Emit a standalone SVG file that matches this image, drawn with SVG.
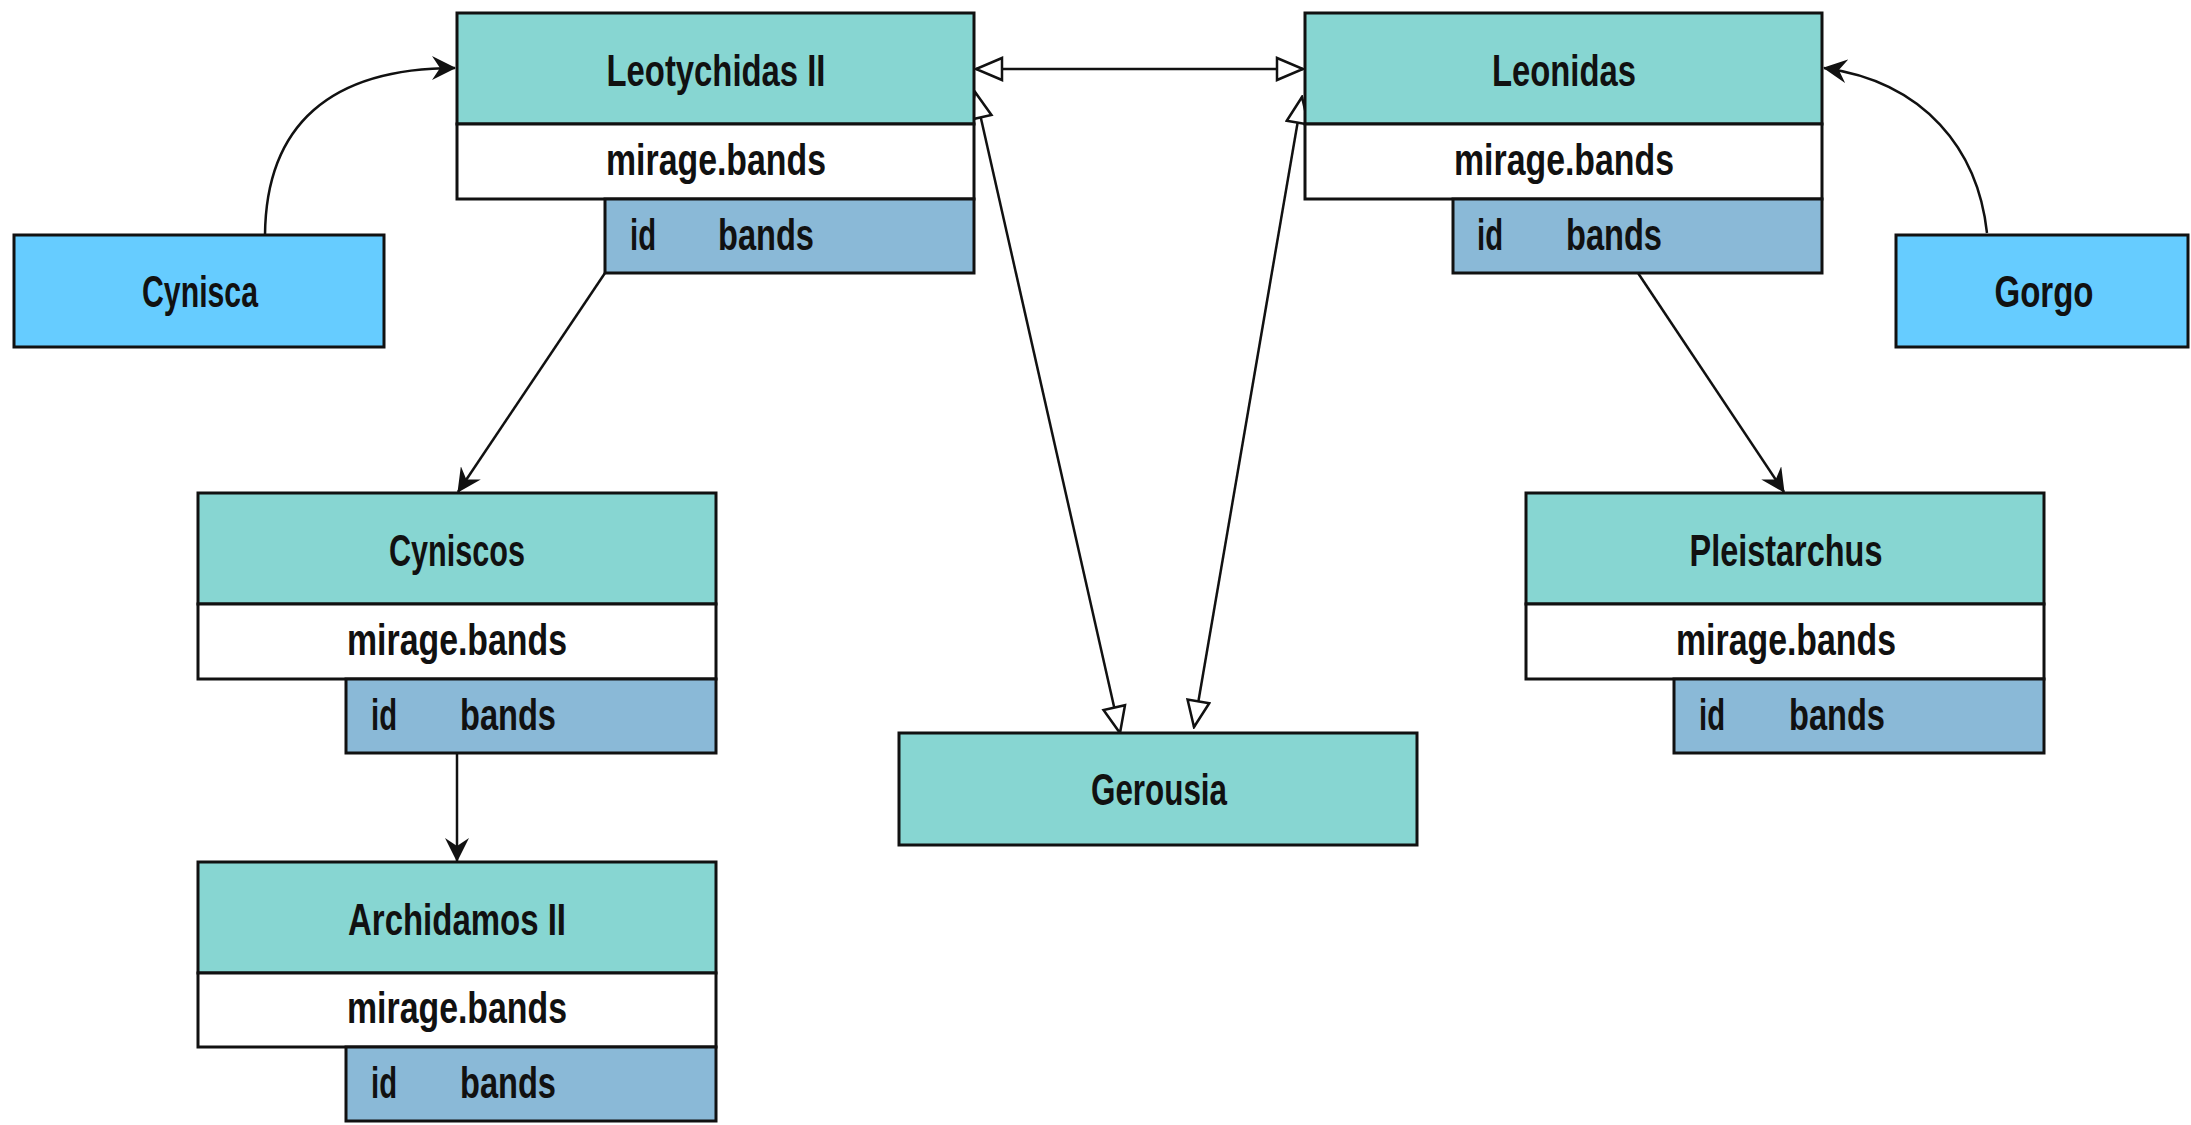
<svg xmlns="http://www.w3.org/2000/svg" width="2191" height="1125" viewBox="0 0 2191 1125">
<style>
.hd{fill:#87d6d2;stroke:#111;stroke-width:3}
.mr{fill:#ffffff;stroke:#111;stroke-width:3}
.ir{fill:#8ab9d7;stroke:#111;stroke-width:3}
.bx{fill:#66ccff;stroke:#111;stroke-width:3}
text{font-family:"Liberation Sans",Arial,sans-serif;font-weight:bold;font-size:45px;fill:#111}
.c{text-anchor:middle}
.ln{fill:none;stroke:#111;stroke-width:2.5}
</style>
<defs>
<marker id="fa" markerUnits="userSpaceOnUse" viewBox="0 0 24 24" refX="23" refY="12" markerWidth="24" markerHeight="24" orient="auto">
<path d="M0,0 L24,12 L0,24 L8,12 Z" fill="#111"/>
</marker>
<marker id="ha" markerUnits="userSpaceOnUse" viewBox="0 0 30 26" refX="28" refY="13" markerWidth="30" markerHeight="26" orient="auto-start-reverse">
<path d="M2,2 L28,13 L2,24 Z" fill="#fff" stroke="#111" stroke-width="2.5"/>
</marker>
</defs>
<g id="connectors">
<path class="ln" d="M265,235 C266,125 330,68 455,68" marker-end="url(#fa)"/>
<path class="ln" d="M1987,233 C1978,150 1925,82 1824,68" marker-end="url(#fa)"/>
<path class="ln" d="M976,69 L1303,69" marker-start="url(#ha)" marker-end="url(#ha)"/>
<path class="ln" d="M975,92 L1120,733" marker-start="url(#ha)" marker-end="url(#ha)"/>
<path class="ln" d="M1302,97 L1194,727" marker-start="url(#ha)" marker-end="url(#ha)"/>
<path class="ln" d="M605,273 L458,492" marker-end="url(#fa)"/>
<path class="ln" d="M1638,273 L1784,492" marker-end="url(#fa)"/>
<path class="ln" d="M457,754 L457,861" marker-end="url(#fa)"/>
</g>
<g id="Cynisca">
<rect class="bx" x="14" y="235" width="370" height="112"/>
<text class="c" x="200" y="307" textLength="116" lengthAdjust="spacingAndGlyphs">Cynisca</text>
</g>
<g id="Gorgo">
<rect class="bx" x="1896" y="235" width="292" height="112"/>
<text class="c" x="2044" y="307" textLength="99" lengthAdjust="spacingAndGlyphs">Gorgo</text>
</g>
<g id="Gerousia">
<rect class="hd" x="899" y="733" width="518" height="112"/>
<text class="c" x="1159" y="805" textLength="136" lengthAdjust="spacingAndGlyphs">Gerousia</text>
</g>
<g id="Leotychidas">
<rect class="hd" x="457" y="13" width="517" height="111"/>
<rect class="mr" x="457" y="124" width="517" height="75"/>
<rect class="ir" x="605" y="199" width="369" height="74"/>
<text class="c" x="716" y="86" textLength="219" lengthAdjust="spacingAndGlyphs">Leotychidas II</text>
<text class="c" x="716" y="175" textLength="220" lengthAdjust="spacingAndGlyphs">mirage.bands</text>
<text x="630" y="250" textLength="26" lengthAdjust="spacingAndGlyphs">id</text>
<text x="718" y="250" textLength="96" lengthAdjust="spacingAndGlyphs">bands</text>
</g>
<g id="Leonidas">
<rect class="hd" x="1305" y="13" width="517" height="111"/>
<rect class="mr" x="1305" y="124" width="517" height="75"/>
<rect class="ir" x="1453" y="199" width="369" height="74"/>
<text class="c" x="1564" y="86" textLength="144" lengthAdjust="spacingAndGlyphs">Leonidas</text>
<text class="c" x="1564" y="175" textLength="220" lengthAdjust="spacingAndGlyphs">mirage.bands</text>
<text x="1477" y="250" textLength="26" lengthAdjust="spacingAndGlyphs">id</text>
<text x="1566" y="250" textLength="96" lengthAdjust="spacingAndGlyphs">bands</text>
</g>
<g id="Cyniscos">
<rect class="hd" x="198" y="493" width="518" height="111"/>
<rect class="mr" x="198" y="604" width="518" height="75"/>
<rect class="ir" x="346" y="679" width="370" height="74"/>
<text class="c" x="457" y="566" textLength="136" lengthAdjust="spacingAndGlyphs">Cyniscos</text>
<text class="c" x="457" y="655" textLength="220" lengthAdjust="spacingAndGlyphs">mirage.bands</text>
<text x="371" y="730" textLength="26" lengthAdjust="spacingAndGlyphs">id</text>
<text x="460" y="730" textLength="96" lengthAdjust="spacingAndGlyphs">bands</text>
</g>
<g id="Archidamos">
<rect class="hd" x="198" y="862" width="518" height="111"/>
<rect class="mr" x="198" y="973" width="518" height="74"/>
<rect class="ir" x="346" y="1047" width="370" height="74"/>
<text class="c" x="457" y="935" textLength="218" lengthAdjust="spacingAndGlyphs">Archidamos II</text>
<text class="c" x="457" y="1023" textLength="220" lengthAdjust="spacingAndGlyphs">mirage.bands</text>
<text x="371" y="1098" textLength="26" lengthAdjust="spacingAndGlyphs">id</text>
<text x="460" y="1098" textLength="96" lengthAdjust="spacingAndGlyphs">bands</text>
</g>
<g id="Pleistarchus">
<rect class="hd" x="1526" y="493" width="518" height="111"/>
<rect class="mr" x="1526" y="604" width="518" height="75"/>
<rect class="ir" x="1674" y="679" width="370" height="74"/>
<text class="c" x="1786" y="566" textLength="193" lengthAdjust="spacingAndGlyphs">Pleistarchus</text>
<text class="c" x="1786" y="655" textLength="220" lengthAdjust="spacingAndGlyphs">mirage.bands</text>
<text x="1699" y="730" textLength="26" lengthAdjust="spacingAndGlyphs">id</text>
<text x="1789" y="730" textLength="96" lengthAdjust="spacingAndGlyphs">bands</text>
</g>
</svg>
